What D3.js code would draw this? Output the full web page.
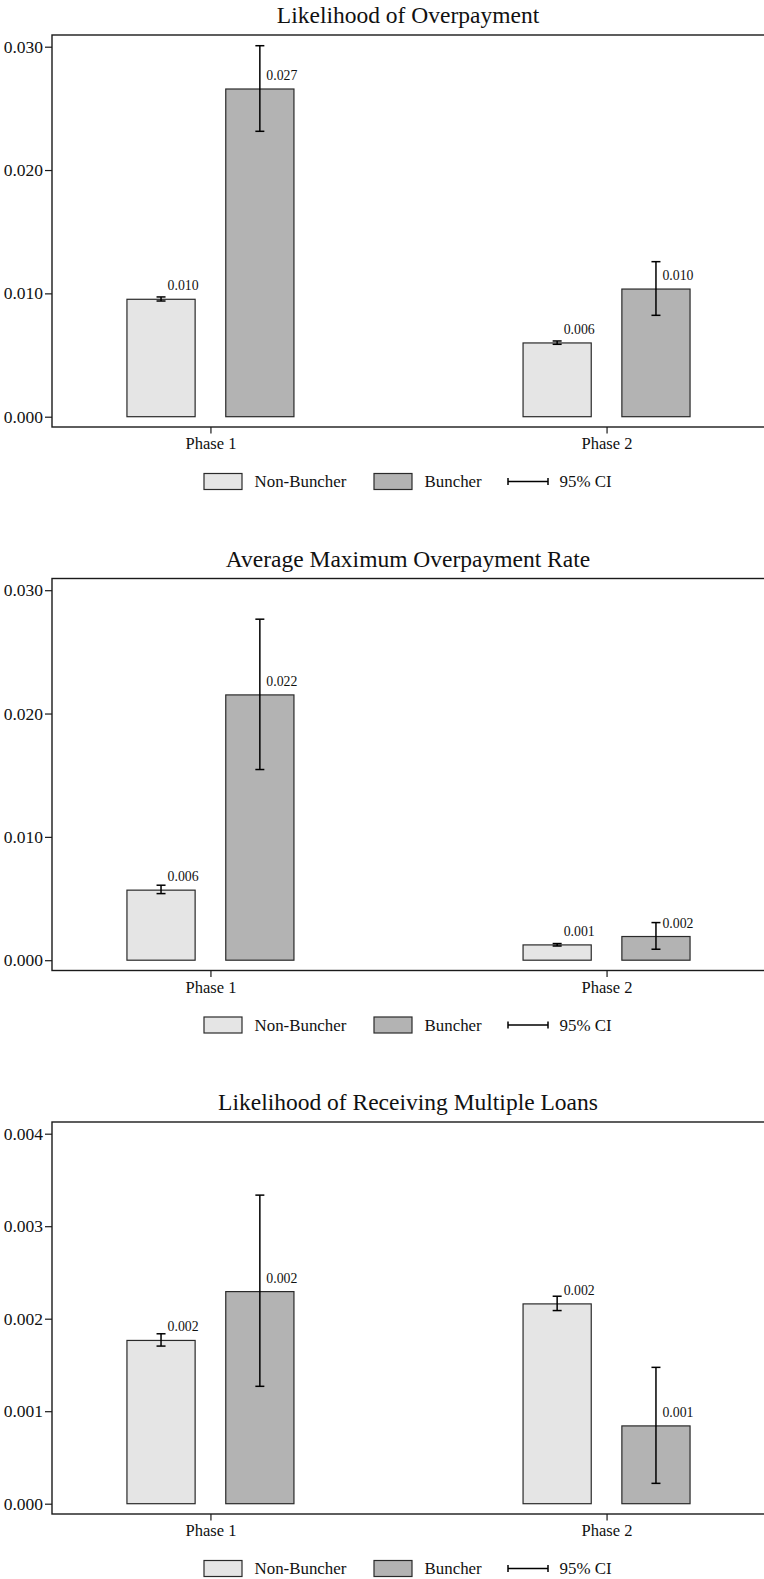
<!DOCTYPE html>
<html>
<head>
<meta charset="utf-8">
<script src="https://cdn.jsdelivr.net/npm/d3@7"></script>
<style>
  body { margin: 0; background: #fff; }
  text { font-family: "Liberation Serif", "Times New Roman", "DejaVu Serif", serif; fill: #111; }
</style>
</head>
<body>
<div id="wrapper"></div>
<script>
// categories
const phases = ["Phase 1", "Phase 2"];
const groups = ["Non-Buncher", "Buncher"];

// panel titles and y ticks
const titles = [
  "Likelihood of Overpayment",
  "Average Maximum Overpayment Rate",
  "Likelihood of Receiving Multiple Loans"
];
const yTicks = [
  [0, 0.01, 0.02, 0.03],
  [0, 0.01, 0.02, 0.03],
  [0, 0.001, 0.002, 0.003, 0.004]
];

// values, order: Phase 1 NB, Phase 1 B, Phase 2 NB, Phase 2 B
const overpayMean = [0.00952, 0.02657, 0.00598, 0.01035];
const overpayLow = [0.00938, 0.02314, 0.00587, 0.00822];
const overpayHigh = [0.00971, 0.03008, 0.00614, 0.01257];

const rateMean = [0.00568, 0.02151, 0.00124, 0.00192];
const rateLow = [0.0054, 0.01546, 0.00115, 0.00089];
const rateHigh = [0.00608, 0.02765, 0.00135, 0.00305];

const loansMean = [0.001765, 0.002293, 0.00216, 0.000841];
const loansLow = [0.001704, 0.001269, 0.002088, 0.00022];
const loansHigh = [0.001837, 0.003336, 0.002243, 0.001474];

const panels = [
  { title: titles[0], ticks: yTicks[0], mean: overpayMean, low: overpayLow, high: overpayHigh },
  { title: titles[1], ticks: yTicks[1], mean: rateMean, low: rateLow, high: rateHigh },
  { title: titles[2], ticks: yTicks[2], mean: loansMean, low: loansLow, high: loansHigh }
];

const fills = ["#e5e5e5", "#b3b3b3"];
const width = 764, height = 1579;
const offsets = [0, 543.5, 1087];
const frame = { left: 52, right: 765, top: 35, bottom: 427 };
const zeroY = 416.7, topTickY = 46.7;
const serif = "Liberation Serif, Times New Roman, DejaVu Serif, serif";

const svg = d3.select("#wrapper").append("svg")
  .attr("width", width).attr("height", height);

const xPhase = d3.scalePoint().domain(phases)
  .range([frame.left, frame.right]).padding(0.4);
const xGroup = d3.scaleBand().domain(groups)
  .range([-83.5, 83.5]).paddingInner(0.31).paddingOuter(0);
const fmt = d3.format(".3f");

panels.forEach((p, i) => {
  const g = svg.append("g").attr("transform", `translate(0,${offsets[i]})`);

  const yScale = d3.scaleLinear()
    .domain([0, d3.max(p.ticks)])
    .range([zeroY, topTickY]);

  const rows = [];
  phases.forEach((ph, pi) => groups.forEach((gr, gi) => {
    const k = pi * 2 + gi;
    rows.push({ phase: ph, group: gr, gi, mean: p.mean[k], low: p.low[k], high: p.high[k] });
  }));
  const xLeft = (d) => xPhase(d.phase) + xGroup(d.group);
  const xMid = (d) => xLeft(d) + xGroup.bandwidth() / 2;

  // title
  g.append("text")
    .attr("x", 408).attr("y", 23)
    .attr("text-anchor", "middle")
    .attr("font-size", "23.5px")
    .text(p.title);

  // bars
  g.append("g").selectAll("rect")
    .data(rows).join("rect")
    .attr("x", xLeft)
    .attr("y", (d) => yScale(d.mean))
    .attr("width", xGroup.bandwidth())
    .attr("height", (d) => yScale(0) - yScale(d.mean))
    .attr("fill", (d) => fills[d.gi])
    .attr("stroke", "#2a2a2a")
    .attr("stroke-width", 1.2);

  // error bars
  const eb = g.append("g").attr("stroke", "#000").attr("stroke-width", 1.5).attr("fill", "none");
  eb.selectAll("line.v").data(rows).join("line").attr("class", "v")
    .attr("x1", xMid).attr("x2", xMid)
    .attr("y1", (d) => yScale(d.low)).attr("y2", (d) => yScale(d.high));
  eb.selectAll("line.t").data(rows).join("line").attr("class", "t")
    .attr("x1", (d) => xMid(d) - 4.5).attr("x2", (d) => xMid(d) + 4.5)
    .attr("y1", (d) => yScale(d.high)).attr("y2", (d) => yScale(d.high));
  eb.selectAll("line.b").data(rows).join("line").attr("class", "b")
    .attr("x1", (d) => xMid(d) - 4.5).attr("x2", (d) => xMid(d) + 4.5)
    .attr("y1", (d) => yScale(d.low)).attr("y2", (d) => yScale(d.low));

  // value labels
  g.append("g").selectAll("text")
    .data(rows).join("text")
    .attr("x", (d) => xMid(d) + 6.5)
    .attr("y", (d) => yScale(d.mean) - 9)
    .attr("font-size", "13.8px")
    .attr("fill", "#222")
    .text((d) => fmt(d.mean));

  // frame
  g.append("rect")
    .attr("x", frame.left).attr("y", frame.top)
    .attr("width", frame.right - frame.left)
    .attr("height", frame.bottom - frame.top)
    .attr("fill", "none").attr("stroke", "#1a1a1a").attr("stroke-width", 1.4);

  // y axis
  const yAxis = g.append("g")
    .attr("transform", `translate(${frame.left},0)`)
    .call(d3.axisLeft(yScale).tickValues(p.ticks).tickFormat(fmt).tickSize(7).tickPadding(2));
  yAxis.select(".domain").remove();
  yAxis.selectAll("line").attr("stroke", "#1a1a1a").attr("stroke-width", 1.2);
  yAxis.selectAll("text")
    .attr("font-family", serif)
    .attr("font-size", "17.5px").attr("fill", "#111");

  // x axis
  const xAxis = g.append("g")
    .attr("transform", `translate(0,${frame.bottom})`)
    .call(d3.axisBottom(xPhase).tickSize(6.5).tickPadding(4));
  xAxis.select(".domain").remove();
  xAxis.selectAll("line").attr("stroke", "#1a1a1a").attr("stroke-width", 1.2);
  xAxis.selectAll("text")
    .attr("font-family", serif)
    .attr("font-size", "16.5px").attr("fill", "#111");

  // legend
  const ly = 481.5;
  const leg = g.append("g");
  [[204, 254.5], [374, 424.5]].forEach(([bx, tx], gi) => {
    leg.append("rect")
      .attr("x", bx).attr("y", ly - 8).attr("width", 38).attr("height", 16)
      .attr("fill", fills[gi]).attr("stroke", "#2a2a2a").attr("stroke-width", 1.2);
    leg.append("text")
      .attr("x", tx).attr("y", ly).attr("dy", "0.35em")
      .attr("font-size", "16.9px").text(groups[gi]);
  });
  leg.append("line").attr("x1", 508).attr("x2", 548).attr("y1", ly).attr("y2", ly)
    .attr("stroke", "#000").attr("stroke-width", 1.5);
  [508, 548].forEach((cx) => leg.append("line")
    .attr("x1", cx).attr("x2", cx).attr("y1", ly - 3.5).attr("y2", ly + 3.5)
    .attr("stroke", "#000").attr("stroke-width", 1.5));
  leg.append("text")
    .attr("x", 559.5).attr("y", ly).attr("dy", "0.35em")
    .attr("font-size", "16.9px").text("95% CI");
});
</script>
</body>
</html>
